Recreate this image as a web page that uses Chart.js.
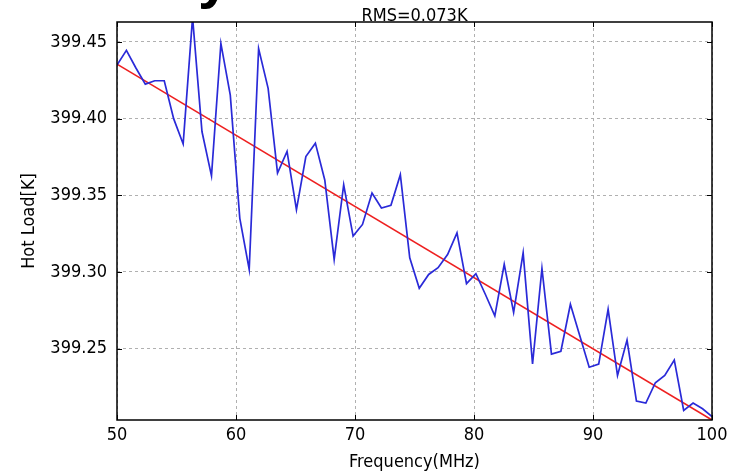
<!DOCTYPE html>
<html>
<head>
<meta charset="utf-8">
<script src="https://cdn.jsdelivr.net/npm/chart.js@4.4.1/dist/chart.umd.min.js"></script>
<style>
html,body{margin:0;padding:0;background:#fff;}
#wrap{position:relative;width:739px;height:475px;overflow:hidden;}
#frag{position:absolute;left:198px;top:-52px;font:bold 58px "Liberation Sans",Arial,sans-serif;color:#000;line-height:1;}
canvas{position:absolute;left:0;top:0;}
</style>
</head>
<body>
<div id="wrap">
<canvas id="c" width="739" height="475"></canvas>
<div id="frag">y</div>
</div>
<script>
// Frequency (MHz) of each measured sample
const frequency = [50.00,50.79,51.59,52.38,53.17,53.97,54.76,55.56,56.35,57.14,57.94,58.73,59.52,60.32,61.11,61.90,
  62.70,63.49,64.29,65.08,65.87,66.67,67.46,68.25,69.05,69.84,70.63,71.43,72.22,73.02,73.81,74.60,
  75.40,76.19,76.98,77.78,78.57,79.37,80.16,80.95,81.75,82.54,83.33,84.13,84.92,85.71,86.51,87.30,
  88.10,88.89,89.68,90.48,91.27,92.06,92.86,93.65,94.44,95.24,96.03,96.83,97.62,98.41,99.21,100.00];
// Hot load temperature (K)
const hotLoad = [399.435,399.4445,399.433,399.4225,399.4247,399.4247,399.400,399.3835,399.466,399.3916,399.3627,399.449,399.4153,399.335,399.3017,399.4457,
  399.4197,399.3645,399.3786,399.3407,399.3753,399.384,399.360,399.3082,399.3569,399.3234,399.331,399.3515,399.3417,399.3435,399.3634,399.3093,
  399.2894,399.2984,399.3028,399.3114,399.3255,399.2924,399.2989,399.2855,399.2714,399.305,399.2736,399.3125,399.240,399.3023,399.2465,399.2483,
  399.2789,399.2584,399.2379,399.240,399.2757,399.2325,399.2556,399.2158,399.2145,399.2278,399.2325,399.2426,399.2097,399.2145,399.2108,399.2058];
// Linear fit end points
const fitFrequency = [50, 100];
const fitHotLoad = [399.4355, 399.2035];
// Axis ticks
const xTicks = [50, 60, 70, 80, 90, 100];
const yTicks = [399.25, 399.30, 399.35, 399.40, 399.45];
const yMin = 399.2035, yMax = 399.463;
const titleText = 'RMS=0.073K';

const FONT = '"DejaVu Sans Condensed", "Liberation Sans Narrow", "DejaVu Sans", sans-serif';
Chart.defaults.font.family = FONT;
Chart.defaults.font.size = 18;
Chart.defaults.color = '#000';

const framePlugin = {
  id: 'frame',
  afterDatasetsDraw(chart) {
    const {ctx, chartArea: a, scales} = chart;
    ctx.save();
    ctx.strokeStyle = '#000';
    ctx.lineWidth = 1.5;
    ctx.strokeRect(a.left, a.top, a.right - a.left, a.bottom - a.top);
    ctx.lineWidth = 1;
    ctx.beginPath();
    xTicks.forEach(v => {
      const x = Math.round(scales.x.getPixelForValue(v)) + 0.5;
      ctx.moveTo(x, a.bottom); ctx.lineTo(x, a.bottom - 5);
      ctx.moveTo(x, a.top); ctx.lineTo(x, a.top + 5);
    });
    yTicks.forEach(v => {
      const y = Math.round(scales.y.getPixelForValue(v)) + 0.5;
      ctx.moveTo(a.left, y); ctx.lineTo(a.left + 5, y);
      ctx.moveTo(a.right, y); ctx.lineTo(a.right - 5, y);
    });
    ctx.stroke();
    ctx.fillStyle = '#000';
    ctx.font = '18px ' + FONT;
    ctx.textAlign = 'center';
    ctx.textBaseline = 'alphabetic';
    ctx.fillText(titleText, (a.left + a.right) / 2, a.top - 1);
    ctx.restore();
  }
};

new Chart(document.getElementById('c'), {
  type: 'line',
  data: {
    datasets: [
      {
        data: frequency.map((f, i) => ({x: f, y: hotLoad[i]})),
        borderColor: '#2a2ad8',
        borderWidth: 1.7,
        pointRadius: 0,
        tension: 0,
        fill: false
      },
      {
        data: fitFrequency.map((f, i) => ({x: f, y: fitHotLoad[i]})),
        borderColor: '#ee2020',
        borderWidth: 1.6,
        pointRadius: 0,
        tension: 0,
        fill: false
      }
    ]
  },
  options: {
    responsive: false,
    animation: false,
    layout: {padding: {left: 0, right: 27, top: 22, bottom: 0}},
    plugins: {legend: {display: false}, tooltip: {enabled: false}, title: {display: false}},
    scales: {
      x: {
        type: 'linear',
        min: 50, max: 100,
        afterBuildTicks: s => { s.ticks = xTicks.map(v => ({value: v})); },
        afterFit: s => { s.height = 55; },
        ticks: {padding: 5, maxRotation: 0, callback: v => String(v)},
        grid: {color: '#b0b0b0', lineWidth: 1, drawTicks: false},
        border: {display: false, dash: [3, 3]},
        title: {display: true, text: 'Frequency(MHz)', font: {size: 18}, padding: {top: 2, bottom: 2}}
      },
      y: {
        type: 'linear',
        min: yMin, max: yMax,
        afterBuildTicks: s => { s.ticks = yTicks.map(v => ({value: v})); },
        afterFit: s => { s.width = 117; },
        ticks: {padding: 10, callback: v => v.toFixed(2)},
        grid: {color: '#b0b0b0', lineWidth: 1, drawTicks: false},
        border: {display: false, dash: [3, 3]},
        title: {display: true, text: 'Hot Load[K]', font: {size: 18}, padding: {top: 19, bottom: 0}}
      }
    }
  },
  plugins: [framePlugin]
});
</script>
</body>
</html>
